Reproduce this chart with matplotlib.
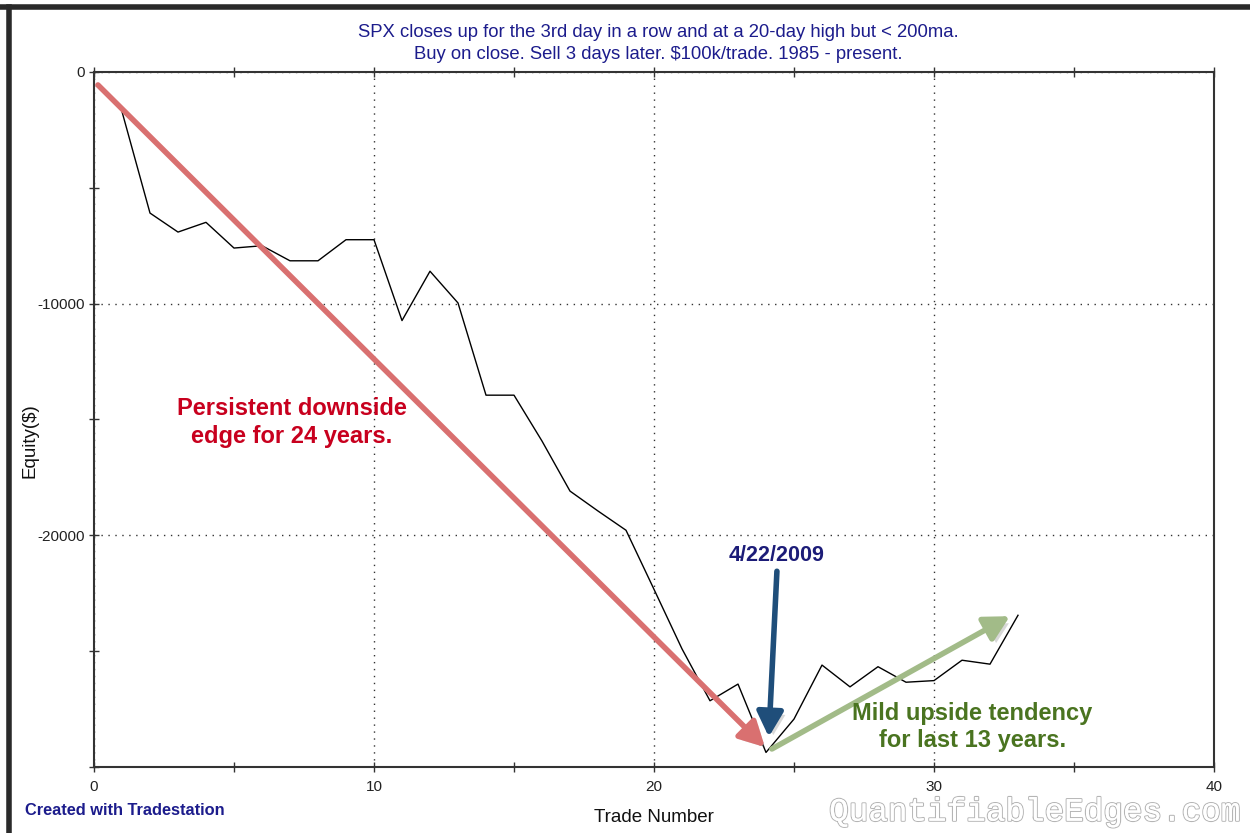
import matplotlib.pyplot as plt
import matplotlib.patheffects as pe
from matplotlib.ticker import MultipleLocator

plt.rcParams['font.family'] = ['Liberation Sans', 'DejaVu Sans']
plt.rcParams['axes.unicode_minus'] = False

trades = list(range(1, 34))
equity = [-1710, -6090, -6910, -6490, -7600, -7500, -8150, -8150, -7240, -7240,
          -10730, -8600, -9970, -13950, -13950, -15930, -18090, -18950, -19780, -22330,
          -24900, -27140, -26420, -29370, -27930, -25600, -26540, -25670, -26340, -26270,
          -25390, -25560, -23450]

title = ("SPX closes up for the 3rd day in a row and at a 20-day high but < 200ma.\n"
         "Buy on close. Sell 3 days later. $100k/trade. 1985 - present.")

fig = plt.figure(figsize=(12.5, 8.33), dpi=100)
ax = fig.add_axes([0.0752, 0.0792, 0.896, 0.8344])

ax.plot(trades, equity, color='black', lw=1.0, zorder=3)

ax.set_xlim(0, 40)
ax.set_ylim(-30000, 0)
ax.xaxis.set_major_locator(MultipleLocator(10))
ax.xaxis.set_minor_locator(MultipleLocator(5))
ax.yaxis.set_major_locator(MultipleLocator(10000))
ax.yaxis.set_minor_locator(MultipleLocator(5000))
ax.set_yticks([0, -10000, -20000])
ax.tick_params(which='both', direction='inout', length=7, width=1, color='#333333',
               top=True, right=False, labelsize=11, labelcolor='#222222')
ax.tick_params(axis='x', pad=6)
ax.tick_params(axis='y', pad=3)
ax.grid(True, which='major', linestyle=(0, (1, 4)), color='#333333', lw=1)
for s in ax.spines.values():
    s.set_color('#333333')
    s.set_linewidth(1.5)

ax.set_xlabel('Trade Number', fontsize=13.5, color='#111111')
ax.xaxis.set_label_coords(0.5, -0.061)
ax.set_ylabel('Equity($)', fontsize=13.5, color='#111111')
ax.yaxis.set_label_coords(-0.05, 0.47)

fig.text(0.5264, 0.948, title, ha='center', va='center', fontsize=13.3,
         color='#1c1c8c', linespacing=1.35)

fig.text(0.02, 0.027, 'Created with Tradestation', fontsize=11.8, fontweight='bold',
         color='#1c1c8c', ha='left', va='center')

fig.text(0.993, 0.025, 'QuantifiableEdges.com', fontsize=23.5, family='Liberation Mono',
         color='white', ha='right', va='center',
         path_effects=[pe.withStroke(linewidth=1.6, foreground='#b5b5b5'), pe.Normal()])

shadow = [pe.SimplePatchShadow(offset=(3, -3), alpha=0.25, shadow_rgbFace='#666666'), pe.Normal()]

ax.annotate('', xy=(23.96, -29140), xytext=(0.14, -560),
            arrowprops=dict(arrowstyle='-|>,head_length=1.5,head_width=0.8', lw=4,
                            color='#d97070', shrinkA=0, shrinkB=0, path_effects=shadow),
            zorder=4)
ax.annotate('', xy=(24.1, -28700), xytext=(24.39, -21550),
            arrowprops=dict(arrowstyle='-|>,head_length=1.5,head_width=0.8', lw=4,
                            color='#1f4e7a', shrinkA=0, shrinkB=0, path_effects=shadow),
            zorder=4)
ax.annotate('', xy=(32.71, -23490), xytext=(24.21, -29220),
            arrowprops=dict(arrowstyle='-|>,head_length=1.5,head_width=0.8', lw=4,
                            color='#a2bb88', shrinkA=0, shrinkB=0, path_effects=shadow),
            zorder=4)

ax.text(7.07, -15130, 'Persistent downside\nedge for 24 years.', ha='center', va='center',
        fontsize=17, fontweight='bold', color='#c8001e', linespacing=1.25, zorder=5)
ax.text(24.36, -20860, '4/22/2009', ha='center', va='center', fontsize=15.5,
        fontweight='bold', color='#1c1c78', zorder=5)
ax.text(31.36, -28280, 'Mild upside tendency\nfor last 13 years.', ha='center', va='center',
        fontsize=17, fontweight='bold', color='#4a7420', linespacing=1.25, zorder=5)

# dark frame edges at top and left like the screenshot
fig.add_artist(plt.Line2D([0, 1], [0.992, 0.992], transform=fig.transFigure,
                          color='#2a2a2a', lw=4))
fig.add_artist(plt.Line2D([0.0075, 0.0075], [0, 0.992], transform=fig.transFigure,
                          color='#2a2a2a', lw=4))

fig.savefig('out.png', dpi=100)
